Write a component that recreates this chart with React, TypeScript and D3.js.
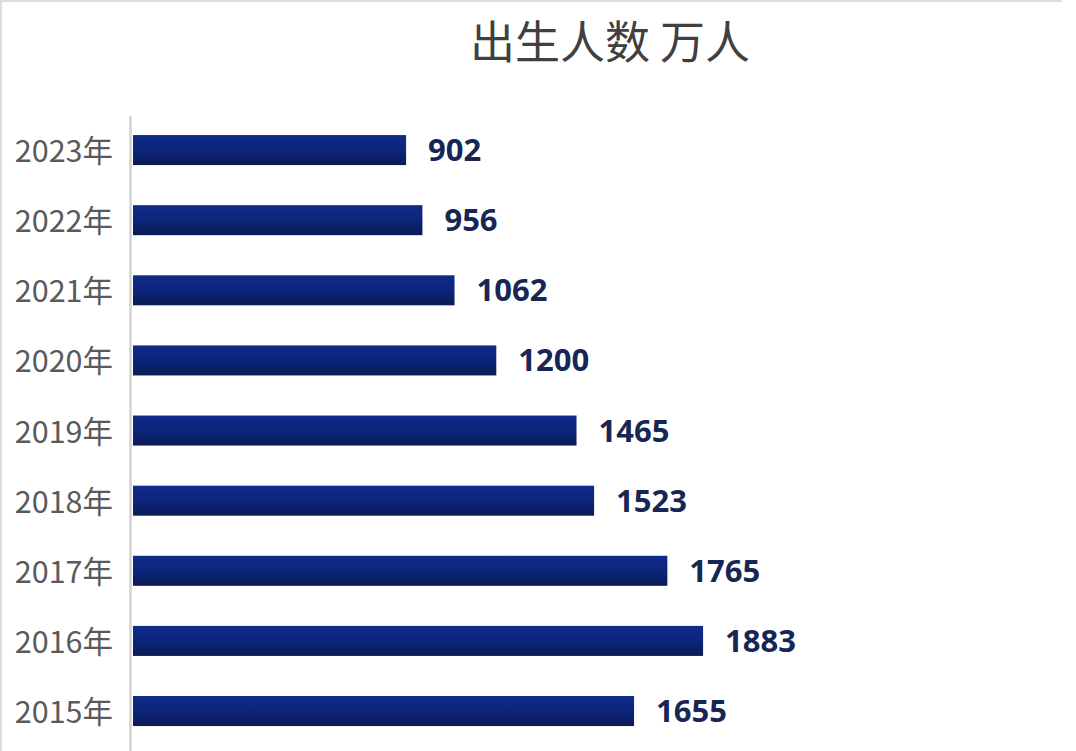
import React, { Component } from "react";
import * as d3 from "d3";

const years = ["2023年", "2022年", "2021年", "2020年", "2019年", "2018年", "2017年", "2016年", "2015年"];
const births = [902, 956, 1062, 1200, 1465, 1523, 1765, 1883, 1655];
const title = "出生人数 万人";

export default class App extends Component {
  chartRef: any;

  componentDidMount(): void {
    const width = 1076;
    const height = 751;
    const margin = { top: 115, left: 133 };

    const chart = d3
      .select(this.chartRef)
      .attr("width", width)
      .attr("height", height)
      .attr("viewBox", `0 0 ${width} ${height}`);

    chart.selectAll("*").remove();

    const defs = chart.append("defs");
    const grad = defs
      .append("linearGradient")
      .attr("id", "barGrad")
      .attr("x1", 0)
      .attr("y1", 0)
      .attr("x2", 0)
      .attr("y2", 1);
    grad.append("stop").attr("offset", "0%").attr("stop-color", "#0f2b8a");
    grad.append("stop").attr("offset", "55%").attr("stop-color", "#0c2479");
    grad.append("stop").attr("offset", "100%").attr("stop-color", "#0a1a52");

    // 图片边框（上、左）
    chart
      .append("path")
      .attr("d", `M1,${height} L1,1 L1062,1`)
      .attr("fill", "none")
      .attr("stroke", "#dcdcdc")
      .attr("stroke-width", 2);

    const x = d3.scaleLinear().domain([0, 2000]).range([margin.left, 738.5]);
    const y = d3
      .scaleBand()
      .domain(years)
      .range([margin.top, 746.1])
      .paddingInner(0.572)
      .paddingOuter(0.286);

    // 纵轴线
    chart
      .append("line")
      .attr("x1", 130.5)
      .attr("x2", 130.5)
      .attr("y1", margin.top + 1)
      .attr("y2", height)
      .attr("stroke", "#d2d2d2")
      .attr("stroke-width", 2.5);

    const rows = chart
      .selectAll(".row")
      .data(years)
      .enter()
      .append("g")
      .attr("class", "row");

    rows
      .append("rect")
      .attr("x", x(0))
      .attr("y", (d) => y(d) as number)
      .attr("width", (d, i) => x(births[i]) - x(0))
      .attr("height", y.bandwidth())
      .attr("fill", "url(#barGrad)");

    rows
      .append("text")
      .text((d) => d)
      .attr("x", 113)
      .attr("y", (d) => (y(d) as number) + y.bandwidth() / 2 + 12)
      .attr("text-anchor", "end")
      .attr("font-family", "'Noto Sans CJK SC', 'Noto Sans', sans-serif")
      .attr("font-size", 30.5)
      .attr("fill", "#5a5a5a");

    rows
      .append("text")
      .text((d, i) => births[i])
      .attr("x", (d, i) => x(births[i]) + 22)
      .attr("y", (d) => (y(d) as number) + y.bandwidth() / 2 + 11)
      .attr("font-family", "'Open Sans', 'Noto Sans', sans-serif")
      .attr("font-weight", 700)
      .attr("font-size", 31)
      .attr("fill", "#172654");

    // 标题
    chart
      .append("text")
      .text(title)
      .attr("x", 610)
      .attr("y", 59)
      .attr("text-anchor", "middle")
      .attr("font-family", "'Noto Sans CJK SC', sans-serif")
      .attr("font-size", 45)
      .attr("fill", "#404040");
  }

  render() {
    return (
      <div style={{ width: 1076, height: 751, position: "absolute", left: 0, top: 0, background: "#fff" }}>
        <svg ref={(r) => (this.chartRef = r)} style={{ display: "block" }}></svg>
      </div>
    );
  }
}
